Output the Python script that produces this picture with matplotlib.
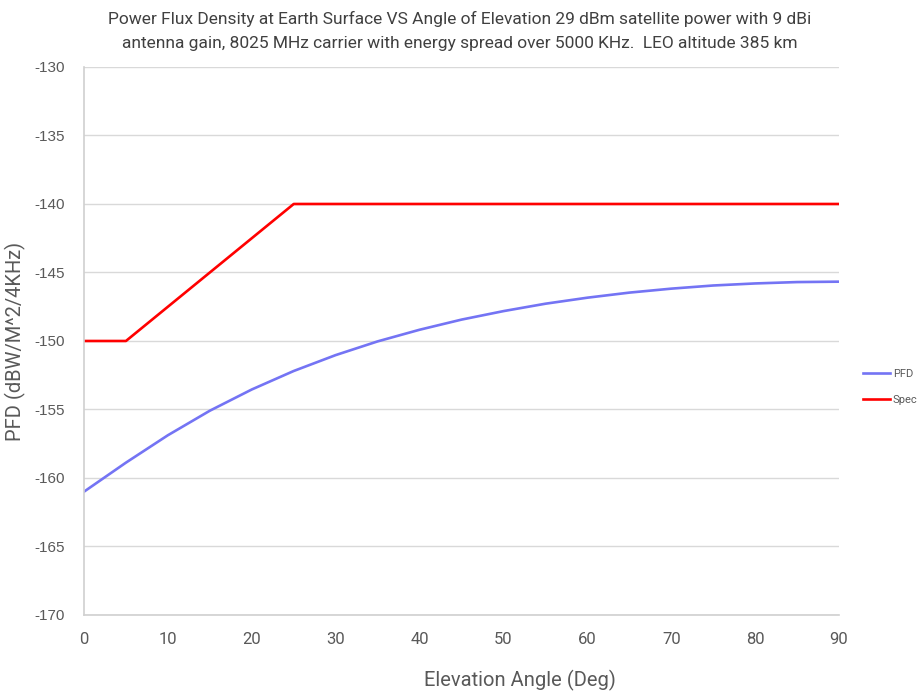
import matplotlib
matplotlib.use("Agg")
import matplotlib.pyplot as plt

plt.rcParams["axes.unicode_minus"] = False

# Data
angle = [0, 5, 10, 15, 20, 25, 30, 35, 40, 45, 50, 55, 60, 65, 70, 75, 80, 85, 90]
pfd = [-161.0, -158.88, -156.88, -155.09, -153.54, -152.19, -151.03, -150.03,
       -149.18, -148.44, -147.82, -147.28, -146.84, -146.47, -146.18, -145.95,
       -145.80, -145.70, -145.67]
spec_angle = [0, 5, 25, 90]
spec = [-150, -150, -140, -140]

xticks = list(range(0, 91, 10))
yticks = list(range(-170, -129, 5))

grey = "#595959"
title = ("Power Flux Density at Earth Surface VS Angle of Elevation 29 dBm satellite power with 9 dBi\n"
         "antenna gain, 8025 MHz carrier with energy spread over 5000 KHz.  LEO altitude 385 km")

fig = plt.figure(figsize=(9.2, 6.92), dpi=100)
ax = fig.add_axes([0.0913, 0.1113, 0.8207, 0.7919])

ax.plot(angle, pfd, color="#7474f4", lw=1.9, label="PFD")
ax.plot(spec_angle, spec, color="#ff0000", lw=1.9, label="Spec")

ax.set_xlim(0, 90)
ax.set_ylim(-170, -130)
ax.set_xticks(xticks)
ax.set_yticks(yticks)
ax.grid(axis="y", color="#d9d9d9", lw=1)
ax.set_axisbelow(True)
for s in ["top", "right"]:
    ax.spines[s].set_visible(False)
for s in ["left", "bottom"]:
    ax.spines[s].set_color("#d0d0d0")
    ax.spines[s].set_linewidth(1.2)
ax.tick_params(length=0, colors=grey)
ax.tick_params(axis="x", pad=12, labelsize=12)
ax.tick_params(axis="y", pad=14, labelsize=11)
for lab in ax.get_yticklabels():
    lab.set_family("Liberation Sans")
for lab in ax.get_xticklabels():
    lab.set_family("Roboto")

ax.set_xlabel("Elevation Angle (Deg)", fontsize=14.5, color=grey, family="Roboto")
ax.xaxis.set_label_coords(0.578, -0.1)
ax.set_ylabel("PFD (dBW/M^2/4KHz)", fontsize=14.5, color=grey, family="Roboto")
ax.yaxis.set_label_coords(-0.077, 0.5)
fig.text(0.5, 0.955, title, ha="center", va="center", fontsize=12.5,
         color="#404040", linespacing=1.7, family="Roboto")

ax.legend(loc="center left", bbox_to_anchor=(1.032, 0.416), frameon=False,
          borderaxespad=0, borderpad=0, handlelength=2.4, labelcolor=grey,
          labelspacing=1.5, handletextpad=0.25,
          prop={"family": "Roboto", "size": 8})

fig.savefig("out.png", dpi=100)
